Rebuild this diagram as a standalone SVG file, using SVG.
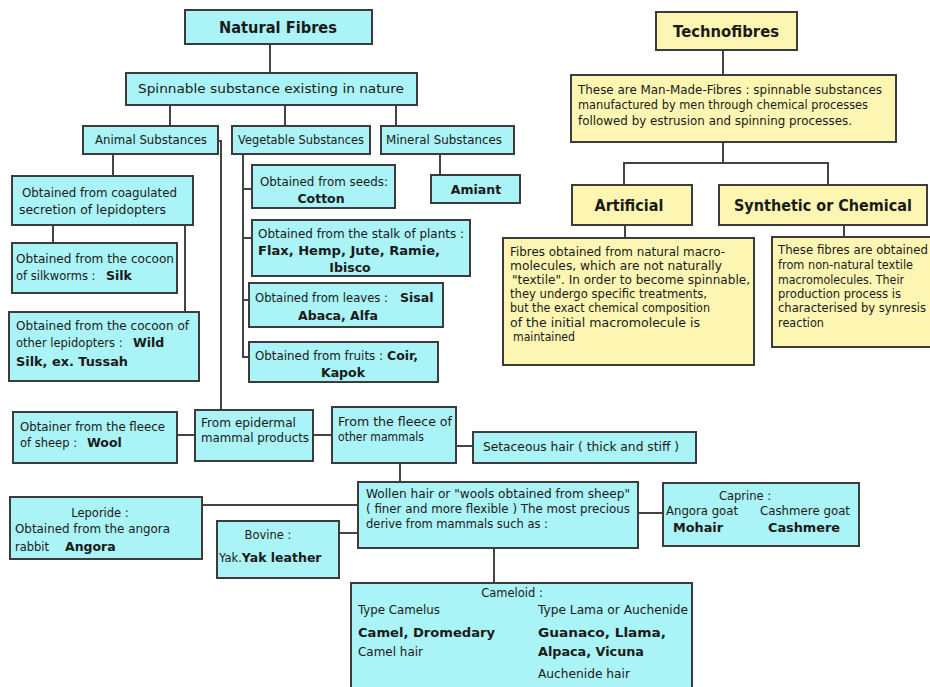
<svg xmlns="http://www.w3.org/2000/svg" width="930" height="687" viewBox="0 0 930 687">
<style>
.b{fill:#aaf3f6;stroke:#3c3c3c;stroke-width:2}
.y{fill:#fcf6b2;stroke:#3c3c3c;stroke-width:2}
.c line,.c path{stroke:#444;stroke-width:2;fill:none}
text{font-family:"DejaVu Sans",Verdana,sans-serif;font-size:11.5px;fill:#1a1a1a}
.h{font-weight:bold;font-size:15px}
.m{text-anchor:middle}
.k{font-weight:bold;font-size:12.5px}
</style>
<rect width="930" height="687" fill="#fff"/>
<g class="c">
<line x1="270" y1="44" x2="270" y2="73"/>
<line x1="170" y1="105" x2="170" y2="126"/>
<line x1="285" y1="105" x2="285" y2="126"/>
<line x1="396" y1="105" x2="396" y2="126"/>
<line x1="440" y1="154" x2="440" y2="175"/>
<line x1="113" y1="154" x2="113" y2="176"/>
<line x1="53" y1="225" x2="53" y2="243"/>
<line x1="185" y1="225" x2="185" y2="312"/>
<path d="M218,141 H221 V410"/>
<path d="M243,154 V357 H249"/>
<line x1="243" y1="189" x2="252" y2="189"/>
<line x1="243" y1="238" x2="252" y2="238"/>
<line x1="243" y1="300" x2="249" y2="300"/>
<line x1="177" y1="435" x2="195" y2="435"/>
<line x1="313" y1="435" x2="332" y2="435"/>
<line x1="456" y1="446" x2="473" y2="446"/>
<line x1="400" y1="463" x2="400" y2="482"/>
<line x1="202" y1="505" x2="358" y2="505"/>
<line x1="339" y1="533" x2="358" y2="533"/>
<line x1="638" y1="513" x2="663" y2="513"/>
<line x1="494" y1="548" x2="494" y2="583"/>
<line x1="723" y1="50" x2="723" y2="75"/>
<line x1="723" y1="142" x2="723" y2="163"/>
<path d="M624,185 V163 H828 V185"/>
<line x1="625" y1="225" x2="625" y2="238"/>
<line x1="844" y1="225" x2="844" y2="237"/>
</g>
<g id="natural-fibres"><rect class="b" x="185" y="10" width="187" height="34"/><text class="h m" x="278" y="33" textLength="118" lengthAdjust="spacingAndGlyphs">Natural Fibres</text></g>
<g id="spinnable"><rect class="b" x="126" y="73" width="291" height="32"/><text class="m" x="271" y="93" style="font-size:12px" textLength="266" lengthAdjust="spacingAndGlyphs">Spinnable substance existing in nature</text></g>
<g id="animal"><rect class="b" x="83" y="126" width="135" height="28"/><text class="m" x="151" y="144" textLength="112" lengthAdjust="spacingAndGlyphs">Animal Substances</text></g>
<g id="vegetable"><rect class="b" x="232" y="126" width="138" height="28"/><text class="m" x="301" y="144" textLength="126" lengthAdjust="spacingAndGlyphs">Vegetable Substances</text></g>
<g id="mineral"><rect class="b" x="381" y="126" width="133" height="28"/><text x="386" y="144" textLength="116" lengthAdjust="spacingAndGlyphs">Mineral Substances</text></g>
<g id="amiant"><rect class="b" x="431" y="175" width="89" height="28"/><text class="k m" x="476" y="194">Amiant</text></g>
<g id="coagulated"><rect class="b" x="12" y="176" width="181" height="49"/><text x="22" y="197" textLength="155" lengthAdjust="spacingAndGlyphs">Obtained from coagulated</text><text x="19" y="214" textLength="147" lengthAdjust="spacingAndGlyphs">secretion of lepidopters</text></g>
<g id="silk"><rect class="b" x="12" y="243" width="165" height="50"/><text x="16" y="263" textLength="158" lengthAdjust="spacingAndGlyphs">Obtained from the cocoon</text><text x="16" y="280">of silkworms :<tspan class="k" x="106">Silk</tspan></text></g>
<g id="wild-silk"><rect class="b" x="9" y="312" width="190" height="69"/><text x="16" y="330" textLength="173" lengthAdjust="spacingAndGlyphs">Obtained from the cocoon of</text><text x="16" y="347">other lepidopters :<tspan class="k" x="133">Wild</tspan></text><text class="k" x="16" y="366" textLength="112" lengthAdjust="spacingAndGlyphs">Silk, ex. Tussah</text></g>
<g id="seeds"><rect class="b" x="252" y="165" width="143" height="43"/><text x="260" y="186" textLength="128" lengthAdjust="spacingAndGlyphs">Obtained from seeds:</text><text class="k m" x="321" y="203">Cotton</text></g>
<g id="stalk"><rect class="b" x="252" y="220" width="218" height="56"/><text x="258" y="238" textLength="206" lengthAdjust="spacingAndGlyphs">Obtained from the stalk of plants :</text><text class="k" x="258" y="255" textLength="182" lengthAdjust="spacingAndGlyphs">Flax, Hemp, Jute,  Ramie,</text><text class="k m" x="350" y="272">Ibisco</text></g>
<g id="leaves"><rect class="b" x="249" y="283" width="194" height="44"/><text x="255" y="302"><tspan textLength="133" lengthAdjust="spacingAndGlyphs">Obtained from leaves :</tspan><tspan class="k" x="400">Sisal</tspan></text><text class="k m" x="338" y="320">Abaca, Alfa</text></g>
<g id="fruits"><rect class="b" x="249" y="342" width="189" height="40"/><text x="255" y="360"><tspan textLength="128" lengthAdjust="spacingAndGlyphs">Obtained from fruits :</tspan><tspan class="k" x="387">Coir,</tspan></text><text class="k m" x="343" y="377">Kapok</text></g>
<g id="technofibres"><rect class="y" x="656" y="12" width="141" height="38"/><text class="h m" x="726" y="37" textLength="106" lengthAdjust="spacingAndGlyphs">Technofibres</text></g>
<g id="man-made"><rect class="y" x="571" y="75" width="325" height="67"/><text x="578" y="94" textLength="304" lengthAdjust="spacingAndGlyphs">These are Man-Made-Fibres : spinnable substances</text><text x="578" y="109" textLength="290" lengthAdjust="spacingAndGlyphs">manufactured by men through chemical processes</text><text x="578" y="125" textLength="274" lengthAdjust="spacingAndGlyphs">followed by estrusion and spinning processes.</text></g>
<g id="artificial"><rect class="y" x="572" y="185" width="120" height="40"/><text class="h m" x="629" y="211" textLength="69" lengthAdjust="spacingAndGlyphs">Artificial</text></g>
<g id="synthetic"><rect class="y" x="719" y="185" width="208" height="40"/><text class="h m" x="823" y="211" textLength="178" lengthAdjust="spacingAndGlyphs">Synthetic or Chemical</text></g>
<g id="artificial-desc"><rect class="y" x="503" y="238" width="251" height="127"/><text x="510" y="256" textLength="215" lengthAdjust="spacingAndGlyphs">Fibres obtained from natural macro-</text><text x="510" y="270" textLength="212" lengthAdjust="spacingAndGlyphs">molecules,  which are  not naturally</text><text x="512" y="284" textLength="238" lengthAdjust="spacingAndGlyphs">"textile". In order to become spinnable,</text><text x="510" y="298" textLength="197" lengthAdjust="spacingAndGlyphs">they  undergo specific  treatments,</text><text x="510" y="312" textLength="200" lengthAdjust="spacingAndGlyphs">but the exact chemical composition</text><text x="510" y="327" textLength="190" lengthAdjust="spacingAndGlyphs">of  the  initial  macromolecule  is</text><text x="513" y="341" textLength="62" lengthAdjust="spacingAndGlyphs">maintained</text></g>
<g id="synthetic-desc"><rect class="y" x="772" y="237" width="162" height="110"/><text x="778" y="254" textLength="150" lengthAdjust="spacingAndGlyphs">These fibres are obtained</text><text x="778" y="269" textLength="135" lengthAdjust="spacingAndGlyphs">from  non-natural textile</text><text x="778" y="284" textLength="126" lengthAdjust="spacingAndGlyphs">macromolecules.  Their</text><text x="778" y="298" textLength="123" lengthAdjust="spacingAndGlyphs">production  process  is</text><text x="778" y="312" textLength="148" lengthAdjust="spacingAndGlyphs">characterised by synresis</text><text x="778" y="327" textLength="46" lengthAdjust="spacingAndGlyphs">reaction</text></g>
<g id="wool"><rect class="b" x="13" y="412" width="164" height="51"/><text x="20" y="431" textLength="145" lengthAdjust="spacingAndGlyphs">Obtainer from the fleece</text><text x="20" y="447">of sheep :<tspan class="k" x="87">Wool</tspan></text></g>
<g id="epidermal"><rect class="b" x="195" y="410" width="118" height="51"/><text x="201" y="427" textLength="95" lengthAdjust="spacingAndGlyphs">From epidermal</text><text x="201" y="442" textLength="108" lengthAdjust="spacingAndGlyphs">mammal products</text></g>
<g id="other-mammals"><rect class="b" x="332" y="407" width="124" height="56"/><text x="338" y="426" textLength="114" lengthAdjust="spacingAndGlyphs">From the fleece of</text><text x="338" y="441" textLength="86" lengthAdjust="spacingAndGlyphs">other mammals</text></g>
<g id="setaceous"><rect class="b" x="473" y="432" width="223" height="31"/><text x="483" y="451" textLength="196" lengthAdjust="spacingAndGlyphs">Setaceous hair ( thick and stiff )</text></g>
<g id="woolen"><rect class="b" x="358" y="482" width="280" height="66"/><text x="366" y="498" textLength="264" lengthAdjust="spacingAndGlyphs">Wollen hair or "wools obtained from sheep"</text><text x="366" y="513" textLength="264" lengthAdjust="spacingAndGlyphs">( finer and more flexible ) The most precious</text><text x="366" y="528" textLength="182" lengthAdjust="spacingAndGlyphs">derive from mammals such as :</text></g>
<g id="caprine"><rect class="b" x="663" y="483" width="196" height="63"/><text class="m" x="745" y="500">Caprine :</text><text x="666" y="515" textLength="72" lengthAdjust="spacingAndGlyphs">Angora goat</text><text x="760" y="515" textLength="90" lengthAdjust="spacingAndGlyphs">Cashmere goat</text><text class="k" x="673" y="532" textLength="50" lengthAdjust="spacingAndGlyphs">Mohair</text><text class="k" x="768" y="532" textLength="72" lengthAdjust="spacingAndGlyphs">Cashmere</text></g>
<g id="leporide"><rect class="b" x="10" y="497" width="192" height="62"/><text class="m" x="100" y="517">Leporide :</text><text x="15" y="533" textLength="155" lengthAdjust="spacingAndGlyphs">Obtained from the angora</text><text x="15" y="551">rabbit<tspan class="k" x="65">Angora</tspan></text></g>
<g id="bovine"><rect class="b" x="217" y="521" width="122" height="57"/><text class="m" x="268" y="539">Bovine :</text><text x="219" y="562">Yak.<tspan class="k">Yak leather</tspan></text></g>
<g id="cameloid"><rect class="b" x="351" y="583" width="341" height="110"/><text class="m" x="512" y="597">Cameloid :</text><text x="358" y="614" textLength="82" lengthAdjust="spacingAndGlyphs">Type Camelus</text><text x="538" y="614" textLength="150" lengthAdjust="spacingAndGlyphs">Type Lama or Auchenide</text><text class="k" x="358" y="637" textLength="137" lengthAdjust="spacingAndGlyphs">Camel, Dromedary</text><text class="k" x="538" y="637" textLength="128" lengthAdjust="spacingAndGlyphs">Guanaco, Llama,</text><text x="358" y="656" textLength="65" lengthAdjust="spacingAndGlyphs">Camel hair</text><text class="k" x="538" y="656" textLength="106" lengthAdjust="spacingAndGlyphs">Alpaca, Vicuna</text><text x="538" y="678" textLength="92" lengthAdjust="spacingAndGlyphs">Auchenide hair</text></g>
</svg>
